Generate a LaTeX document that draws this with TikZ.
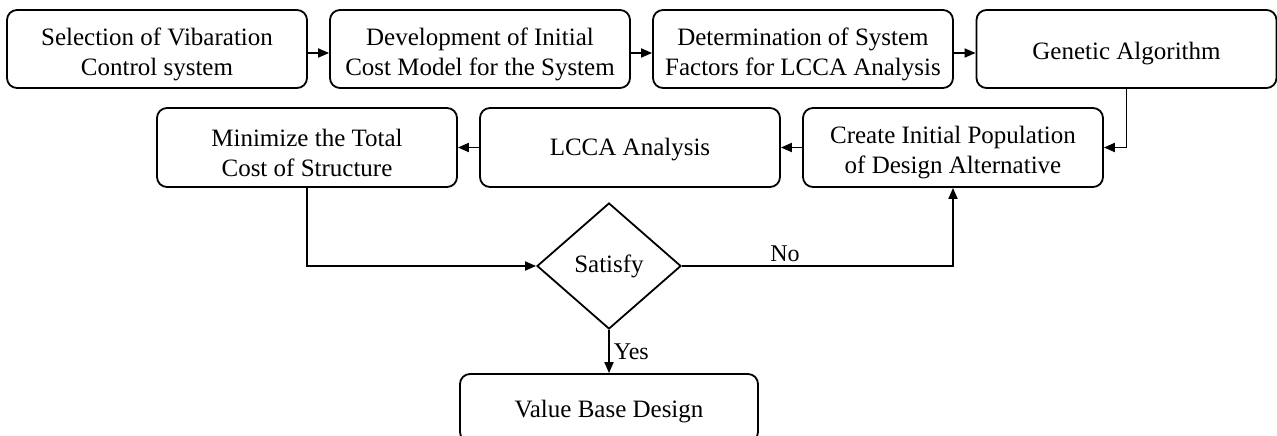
\documentclass[tikz,border=0pt]{standalone}
\usepackage{fontspec}
\setmainfont{Liberation Serif}
\usetikzlibrary{shapes.geometric,arrows.meta}
\begin{document}
\begin{tikzpicture}[x=1pt,y=-1pt,
  box/.style={draw,line width=1.8pt,rounded corners=10pt,minimum width=300pt,minimum height=78pt,inner sep=0pt},
  txt/.style={align=center,font=\fontsize{25}{30}\selectfont,yshift=-5pt,inner sep=0pt},
  dec/.style={draw,line width=1.8pt,diamond,minimum width=144pt,minimum height=126pt,inner sep=0pt,font=\fontsize{25}{30}\selectfont},
  arr/.style={line width=1.8pt,-{Triangle[length=11pt,width=9pt]}},
  lbl/.style={font=\fontsize{24}{28}\selectfont}]
\useasboundingbox (0,0) rectangle (1277,436);
\node[box,label={[txt]center:{Selection of Vibaration\\Control system}}] (b1) at (157,49) {};
\node[box,label={[txt]center:{Development of Initial\\Cost Model for the System}}] (b2) at (480,49) {};
\node[box,label={[txt]center:{Determination of System\\Factors for LCCA Analysis}}] (b3) at (803,49) {};
\node[box,label={[txt]center:{Genetic Algorithm}}] (b4) at (1126.5,49) {};
\node[box,minimum height=79pt,label={[txt]center:{Minimize the Total\\Cost of Structure}}] (m) at (307,147.5) {};
\node[box,minimum height=79pt,label={[txt,yshift=3pt]center:{LCCA Analysis}}] (l) at (630,147.5) {};
\node[box,minimum height=79pt,label={[txt]center:{Create Initial Population\\of Design Alternative}}] (c) at (953,147.5) {};
\node[dec] (d) at (609,266) {Satisfy};
\node[box,minimum width=298pt,minimum height=68pt,label={[txt,yshift=1pt]center:{Value Base Design}}] (v) at (609,408) {};
\draw[arr] ([yshift=-4pt]b1.east) -- ([yshift=-4pt]b2.west);
\draw[arr] ([yshift=-4pt]b2.east) -- ([yshift=-4pt]b3.west);
\draw[arr] ([yshift=-4pt]b3.east) -- ([yshift=-4pt]b4.west);
\draw[arr] (b4.south) |- (c.east);
\draw[arr] (c.west) -- (l.east);
\draw[arr] (l.west) -- (m.east);
\draw[arr] (m.south) |- (d.west);
\draw[arr] (d.east) -| node[lbl,above,pos=0.19,inner sep=3pt] {No} (c.south);
\draw[arr] (d.south) -- node[lbl,right,inner sep=4pt] {Yes} (v.north);
\end{tikzpicture}
\end{document}
